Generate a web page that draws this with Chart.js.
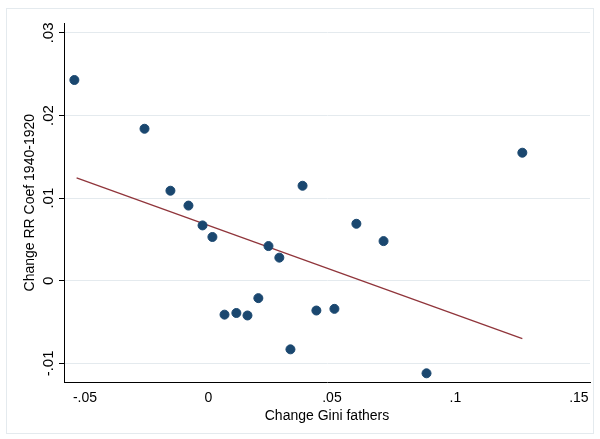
<!DOCTYPE html>
<html><head><meta charset="utf-8">
<script src="https://cdn.jsdelivr.net/npm/chart.js@4"></script>
<style>
html,body{margin:0;padding:0;background:#fff}
#wrap{position:absolute;left:6px;top:8px;width:588px;height:426px;border:1px solid #e4eaee;box-sizing:border-box}
#c{position:absolute;left:0;top:0}
</style></head><body>
<div id="wrap"></div>
<canvas id="c" width="600" height="439"></canvas>
<script>
// Pontos observados (variação Gini dos pais x variação coef. RR)
const giniPais = [-0.0543, -0.0259, -0.0154, -0.0081, -0.0024, 0.0016, 0.0243, 0.0287, 0.0381, 0.0599,
  0.0709, 0.1271, 0.0065, 0.0113, 0.0158, 0.0202, 0.0437, 0.0510, 0.0332, 0.0883];
const coefRR = [0.0243, 0.0184, 0.0109, 0.0091, 0.0067, 0.0053, 0.0042, 0.0028, 0.0115, 0.0069,
  0.0048, 0.0155, -0.0041, -0.0039, -0.0042, -0.0021, -0.0036, -0.0034, -0.0083, -0.0112];
// Reta ajustada
const retaX = [-0.0534, 0.1271];
const retaY = [0.01245, -0.0070];
const ticksX = [-0.05, 0, 0.05, 0.1, 0.15];
const ticksY = [-0.01, 0, 0.01, 0.02, 0.03];

function rotulo(v) {
  if (v === 0) return "0";
  return (v < 0 ? "-" : "") + String(Math.abs(v)).replace(/^0/, "");
}

const eixoYRotulos = {
  id: "eixoYRotulos",
  afterDraw(chart) {
    const ctx = chart.ctx, y = chart.scales.y, x0 = y.right;
    ctx.save();
    ctx.font = "15px 'Liberation Sans', Arial";
    ctx.fillStyle = "#000";
    ctx.textAlign = "center";
    ctx.textBaseline = "bottom";
    ticksY.forEach(v => {
      const py = y.getPixelForValue(v);
      ctx.save();
      ctx.translate(x0 - 8, py);
      ctx.rotate(-Math.PI / 2);
      ctx.fillText(rotulo(v), 0, 0);
      ctx.restore();
    });
    ctx.restore();
  }
};

new Chart(document.getElementById("c").getContext("2d"), {
  type: "scatter",
  data: {
    datasets: [
      { data: giniPais.map((x, i) => ({ x, y: coefRR[i] })), backgroundColor: "#1a476f", borderColor: "#1a476f", pointRadius: 4.5, order: 1 },
      { type: "line", data: retaX.map((x, i) => ({ x, y: retaY[i] })), borderColor: "#90353b", borderWidth: 1.3, pointRadius: 0, fill: false, order: 2 }
    ]
  },
  options: {
    responsive: false, animation: false,
    layout: { padding: { top: 23, right: 10, left: 22, bottom: 10 } },
    plugins: { legend: { display: false }, tooltip: { enabled: false } },
    scales: {
      x: {
        type: "linear", min: -0.0585, max: 0.1545,
        afterBuildTicks: s => { s.ticks = ticksX.map(value => ({ value })); },
        ticks: { color: "#000", font: { size: 14, family: "'Liberation Sans', Arial" }, callback: rotulo, maxRotation: 0, padding: 2 },
        grid: { display: false, drawTicks: true, tickLength: 5, tickColor: "#000" },
        border: { color: "#000" },
        title: { display: true, text: "Change Gini fathers", color: "#000", font: { size: 14, family: "'Liberation Sans', Arial" }, padding: { top: 0 } }
      },
      y: {
        type: "linear", min: -0.0123, max: 0.0312,
        afterBuildTicks: s => { s.ticks = ticksY.map(value => ({ value })); },
        ticks: { color: "rgba(0,0,0,0)", font: { size: 15 }, callback: v => "    ", padding: 2 },
        afterFit: s => { s.width = 42; },
        grid: { color: "#e4eaee", tickLength: 5, tickColor: "#000", drawTicks: true },
        border: { color: "#000" },
        title: { display: true, text: "Change RR Coef 1940-1920", color: "#000", font: { size: 14, family: "'Liberation Sans', Arial" }, padding: 0 }
      }
    }
  },
  plugins: [eixoYRotulos]
});
</script>
</body></html>
